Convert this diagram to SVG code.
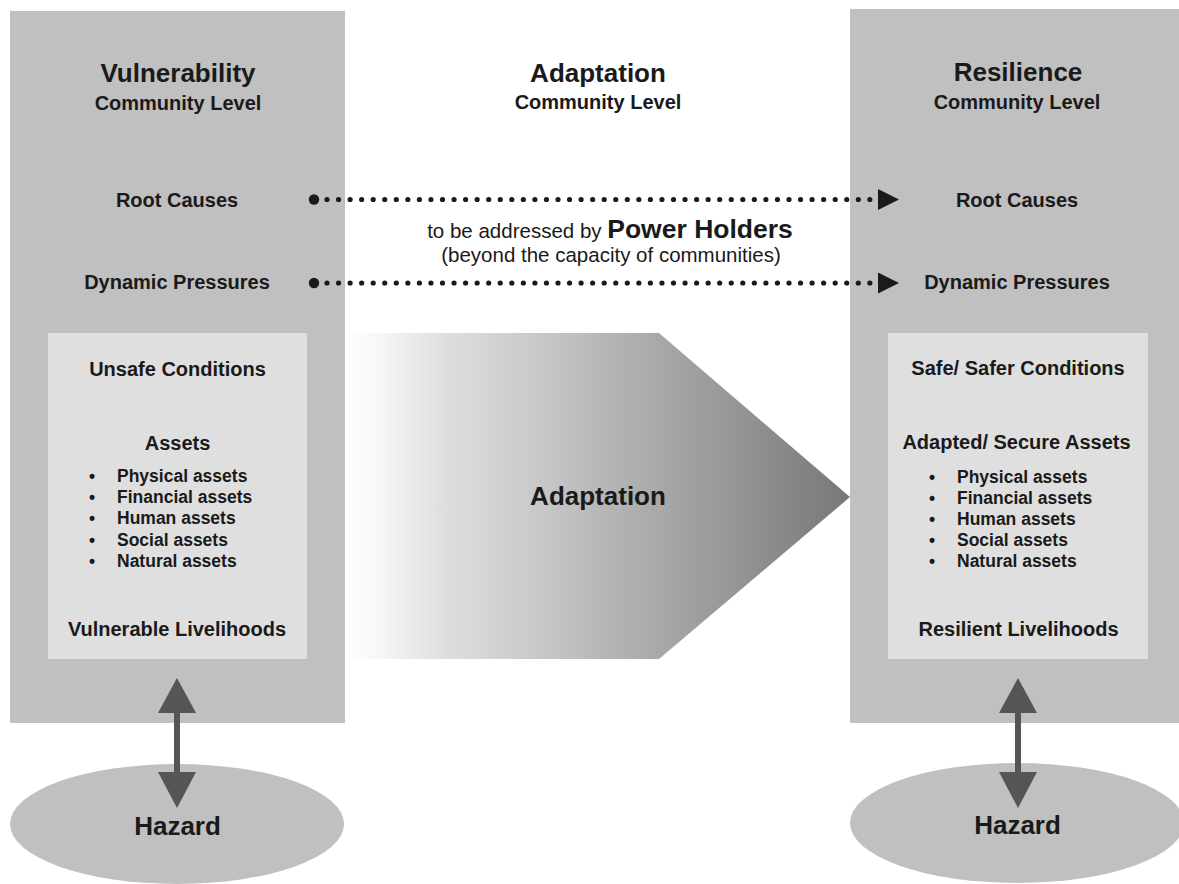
<svg xmlns="http://www.w3.org/2000/svg" width="1179" height="884" viewBox="0 0 1179 884">
<style>
text{font-family:"Liberation Sans",Arial,sans-serif;fill:#1a1a1a;text-anchor:middle}
.t26{font-size:26px;font-weight:bold}
.t20{font-size:20px;font-weight:bold}
.t17{font-size:17.5px;font-weight:bold;text-anchor:start}
.panel{fill:#c0c0c0}
.inner{fill:#dfdfdf}
.haz{fill:#c0c0c0}
.dots{stroke:#1a1a1a;stroke-width:5.2;stroke-linecap:round;stroke-dasharray:0 11.55;fill:none}
.dbl{stroke:#555;stroke-width:6;fill:none}
.ah{fill:#555}
</style>
<defs>
<linearGradient id="g" gradientUnits="userSpaceOnUse" x1="345" y1="0" x2="850" y2="0">
<stop offset="0" stop-color="#ffffff"/>
<stop offset="0.07" stop-color="#f6f6f6"/>
<stop offset="0.2" stop-color="#dedede"/>
<stop offset="0.4" stop-color="#c6c6c6"/>
<stop offset="0.6" stop-color="#ababab"/>
<stop offset="0.8" stop-color="#929292"/>
<stop offset="1" stop-color="#777777"/>
</linearGradient>
</defs>
<rect width="1179" height="884" fill="#ffffff"/>

<g id="vulnerability">
<rect class="panel" x="10" y="11" width="335" height="712"/>
<text class="t26" x="178" y="82">Vulnerability</text>
<text class="t20" x="178" y="110">Community Level</text>
<text class="t20" x="177" y="207">Root Causes</text>
<text class="t20" x="177" y="289">Dynamic Pressures</text>
</g>

<g id="vulnerable-conditions">
<rect class="inner" x="48" y="333" width="259" height="326"/>
<text class="t20" x="177.5" y="376">Unsafe Conditions</text>
<text class="t20" x="177.5" y="450">Assets</text>
<g>
<text class="t17" x="89" y="482">•</text><text class="t17" x="117" y="482">Physical assets</text>
<text class="t17" x="89" y="503">•</text><text class="t17" x="117" y="503">Financial assets</text>
<text class="t17" x="89" y="524">•</text><text class="t17" x="117" y="524">Human assets</text>
<text class="t17" x="89" y="546">•</text><text class="t17" x="117" y="546">Social assets</text>
<text class="t17" x="89" y="567">•</text><text class="t17" x="117" y="567">Natural assets</text>
</g>
<text class="t20" x="177" y="636">Vulnerable Livelihoods</text>
</g>

<g id="adaptation-title">
<text class="t26" x="598" y="82">Adaptation</text>
<text class="t20" x="598" y="109">Community Level</text>
</g>

<g id="power-holders">
<text x="610" y="238" style="font-size:20.5px">to be addressed by <tspan style="font-size:26.5px;font-weight:bold">Power Holders</tspan></text>
<text x="611" y="262" style="font-size:20.5px">(beyond the capacity of communities)</text>
</g>

<g id="adaptation-arrow">
<polygon points="345,333 659,333 850,497 659,659 345,659" fill="url(#g)"/>
<text class="t26" x="598" y="505">Adaptation</text>
</g>

<g id="resilience">
<rect class="panel" x="850" y="9" width="329" height="714"/>
<text class="t26" x="1018" y="81">Resilience</text>
<text class="t20" x="1017" y="109">Community Level</text>
<text class="t20" x="1017" y="207">Root Causes</text>
<text class="t20" x="1017" y="289">Dynamic Pressures</text>
</g>

<g id="resilient-conditions">
<rect class="inner" x="888" y="333" width="260" height="326"/>
<text class="t20" x="1018" y="375">Safe/ Safer Conditions</text>
<text class="t20" x="1016.5" y="449">Adapted/ Secure Assets</text>
<g>
<text class="t17" x="929" y="483">•</text><text class="t17" x="957" y="483">Physical assets</text>
<text class="t17" x="929" y="504">•</text><text class="t17" x="957" y="504">Financial assets</text>
<text class="t17" x="929" y="525">•</text><text class="t17" x="957" y="525">Human assets</text>
<text class="t17" x="929" y="546">•</text><text class="t17" x="957" y="546">Social assets</text>
<text class="t17" x="929" y="567">•</text><text class="t17" x="957" y="567">Natural assets</text>
</g>
<text class="t20" x="1018.5" y="636">Resilient Livelihoods</text>
</g>

<g id="hazard-left">
<ellipse class="haz" cx="177" cy="824" rx="167" ry="60"/>
<text class="t26" x="177.5" y="835">Hazard</text>
</g>

<g id="hazard-right">
<ellipse class="haz" cx="1017" cy="823" rx="167" ry="60"/>
<text class="t26" x="1017.5" y="834">Hazard</text>
</g>

<g id="connectors">
<circle cx="314" cy="199.5" r="5.2" fill="#1a1a1a"/>
<line class="dots" x1="327" y1="199.5" x2="870" y2="199.5"/>
<polygon points="878,189 899,199.5 878,210" fill="#1a1a1a"/>
<circle cx="314" cy="283" r="5.2" fill="#1a1a1a"/>
<line class="dots" x1="327" y1="283" x2="870" y2="283"/>
<polygon points="878,272.5 899,283 878,293.5" fill="#1a1a1a"/>

<line class="dbl" x1="177" y1="710" x2="177" y2="775"/>
<polygon class="ah" points="177,678 196,713 158,713"/>
<polygon class="ah" points="158,772 196,772 177,808"/>

<line class="dbl" x1="1018" y1="710" x2="1018" y2="775"/>
<polygon class="ah" points="1018,678 1037,713 999,713"/>
<polygon class="ah" points="999,772 1037,772 1018,808"/>
</g>
</svg>
